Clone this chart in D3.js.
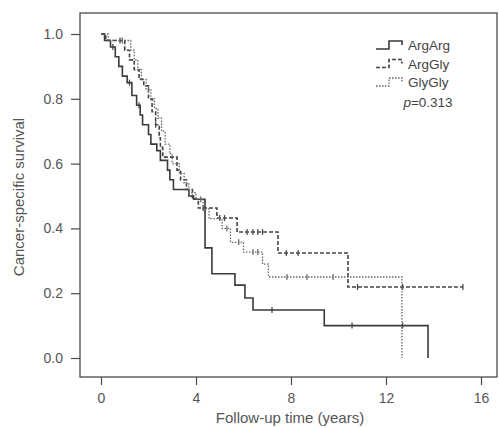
<!DOCTYPE html>
<html><head><meta charset="utf-8">
<script src="https://cdn.jsdelivr.net/npm/d3@7"></script>
<style>body{margin:0;background:#fff}svg{display:block}</style>
</head><body>
<script>
const groups = ["ArgArg", "ArgGly", "GlyGly"];
// step points [time, survival]
const argArg = [[0,1],[0.15,0.98],[0.4,0.96],[0.6,0.93],[0.75,0.90],[0.9,0.87],[1.1,0.85],[1.3,0.81],[1.5,0.78],[1.65,0.75],[1.75,0.72],[2.0,0.69],[2.1,0.66],[2.35,0.64],[2.5,0.61],[2.8,0.58],[2.9,0.55],[3.05,0.52],[3.7,0.50],[3.9,0.49],[4.38,0.34],[4.67,0.26],[5.64,0.225],[6.06,0.185],[6.4,0.148],[9.4,0.10],[13.77,0]];
const argGly = [[0,1],[0.2,0.98],[1.0,0.95],[1.2,0.92],[1.4,0.89],[1.6,0.86],[1.8,0.84],[2.0,0.80],[2.15,0.76],[2.3,0.72],[2.45,0.68],[2.5,0.65],[2.6,0.62],[3.2,0.58],[3.35,0.55],[3.6,0.52],[3.85,0.49],[4.1,0.463],[4.88,0.432],[5.73,0.389],[7.45,0.324],[10.4,0.219]];
const argGlyEnd = 15.24;
const glyGly = [[0,1],[0.3,0.98],[1.25,0.95],[1.4,0.92],[1.55,0.89],[1.7,0.86],[1.9,0.83],[2.1,0.80],[2.25,0.77],[2.4,0.74],[2.55,0.70],[2.7,0.66],[2.9,0.63],[3.0,0.60],[3.3,0.57],[3.5,0.54],[3.7,0.51],[4.0,0.49],[4.3,0.46],[4.55,0.43],[5.1,0.40],[5.45,0.357],[6.0,0.327],[6.8,0.29],[7.05,0.25],[12.67,0]];
// censor times
const argArgCensor = [0.5, 1.2, 1.6, 7.2, 10.57, 12.7];
const argGlyCensor = [0.8, 2.3, 4.3, 5.0, 5.2, 6.15, 6.4, 6.6, 6.8, 7.8, 8.3, 10.8, 12.7, 15.24];
const glyGlyCensor = [0.9, 2.0, 4.2, 5.3, 5.8, 6.4, 6.6, 7.83, 8.67, 9.77];
const xTicks = [0, 4, 8, 12, 16];
const yTicks = [0, 0.2, 0.4, 0.6, 0.8, 1.0];
const pText = "p=0.313";

const W = 499, H = 428;
const svg = d3.select("body").append("svg").attr("width", W).attr("height", H)
  .style("font-family", "'Liberation Sans', Arial, sans-serif");

const x = d3.scaleLinear().domain([0, 16]).range([101, 481]);
const y = d3.scaleLinear().domain([0, 1]).range([358, 34]);
const frame = {l: 80, t: 13, r: 497, b: 377};
const ink = "#4a4a4a";

svg.append("rect").attr("x", frame.l).attr("y", frame.t)
  .attr("width", frame.r - frame.l).attr("height", frame.b - frame.t)
  .attr("fill", "none").attr("stroke", ink).attr("stroke-width", 1.3);

// axes
const xAxis = svg.append("g").attr("transform", `translate(0,${frame.b})`)
  .call(d3.axisBottom(x).tickValues(xTicks).tickSize(8).tickSizeOuter(0).tickPadding(8));
xAxis.select(".domain").remove();
const yAxis = svg.append("g").attr("transform", `translate(${frame.l},0)`)
  .call(d3.axisLeft(y).tickValues(yTicks).tickFormat(d3.format(".1f")).tickSize(9).tickSizeOuter(0).tickPadding(8));
yAxis.select(".domain").remove();
[xAxis, yAxis].forEach(a => {
  a.selectAll("line").attr("stroke", ink).attr("stroke-width", 1.2);
  a.selectAll("text").attr("fill", "#555").style("font-size", "14px");
});

svg.append("text").attr("x", 290).attr("y", 423).attr("text-anchor", "middle")
  .attr("fill", "#555").style("font-size", "15px").text("Follow-up time (years)");
svg.append("text").attr("transform", "translate(24,197) rotate(-90)").attr("text-anchor", "middle")
  .attr("fill", "#555").style("font-size", "15px").text("Cancer-specific survival");

function stepPath(pts, endT) {
  const p = d3.path();
  p.moveTo(x(pts[0][0]), y(pts[0][1]));
  for (let i = 1; i < pts.length; i++) {
    p.lineTo(x(pts[i][0]), y(pts[i - 1][1]));
    p.lineTo(x(pts[i][0]), y(pts[i][1]));
  }
  if (endT !== undefined) p.lineTo(x(endT), y(pts[pts.length - 1][1]));
  return p.toString();
}
function survAt(pts, t) {
  let s = pts[0][1];
  for (const d of pts) if (d[0] <= t) s = d[1];
  return s;
}
const series = [
  {pts: argArg, end: undefined, cens: argArgCensor, dash: null, w: 1.6, col: "#3a3a3a"},
  {pts: argGly, end: argGlyEnd, cens: argGlyCensor, dash: "4,2", w: 1.6, col: "#444"},
  {pts: glyGly, end: undefined, cens: glyGlyCensor, dash: "1.5,1.5", w: 1.3, col: "#666"}
];
series.forEach(s => {
  svg.append("path").attr("d", stepPath(s.pts, s.end)).attr("fill", "none")
    .attr("stroke", s.col).attr("stroke-width", s.w)
    .attr("stroke-dasharray", s.dash);
  svg.append("g").selectAll("line").data(s.cens).join("line")
    .attr("x1", d => x(d)).attr("x2", d => x(d))
    .attr("y1", d => y(survAt(s.pts, d)) - 3).attr("y2", d => y(survAt(s.pts, d)) + 3)
    .attr("stroke", s.col).attr("stroke-width", 1.2);
});

// legend
const leg = svg.append("g");
groups.forEach((g, i) => {
  const s = series[i];
  const yy = 45 + i * 18.5;
  const p = d3.path();
  p.moveTo(376, yy + 4); p.lineTo(389, yy + 4); p.lineTo(389, yy - 4); p.lineTo(402, yy - 4); p.lineTo(402, yy);
  leg.append("path").attr("d", p.toString()).attr("fill", "none").attr("stroke", s.col)
    .attr("stroke-width", s.w).attr("stroke-dasharray", s.dash);
  leg.append("text").attr("x", 408).attr("y", yy + 5).attr("fill", "#444")
    .style("font-size", "13.5px").text(g);
});
const pt = leg.append("text").attr("x", 428).attr("y", 107).attr("text-anchor", "middle")
  .attr("fill", "#444").style("font-size", "13.5px");
pt.append("tspan").style("font-style", "italic").text(pText.split("=")[0]);
pt.append("tspan").text("=" + pText.split("=")[1]);
</script>
</body></html>
